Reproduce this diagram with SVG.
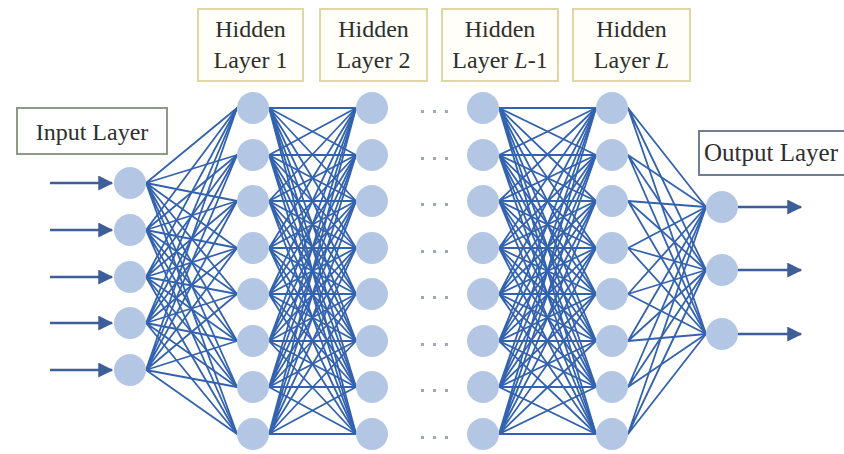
<svg xmlns="http://www.w3.org/2000/svg" width="844" height="454" viewBox="0 0 844 454">
<defs>
<style>
.c{fill:none;stroke:#3362ae;stroke-width:1.8;stroke-linejoin:round}
.n{fill:#b3c7e5}
.t{font-family:"Liberation Serif","Times New Roman",serif;font-size:24px;fill:#2e2e2e;text-anchor:middle}
.hb{fill:#fffef8;stroke:#e2d5a6;stroke-width:2}
.ar{stroke:#3d5e98;stroke-width:2.5;fill:none}
.d{fill:#a0a8b4}
</style>
<marker id="ah" markerWidth="6" markerHeight="6" refX="5.5" refY="3" orient="auto" markerUnits="strokeWidth">
<path d="M0 0L6 3L0 6Z" fill="#3d5e98"/>
</marker>
</defs>
<rect width="844" height="454" fill="#fff"/>

<g id="labels">
<g id="lbl-input"><rect x="17" y="108" width="150" height="46" fill="#fff" stroke="#8d9a86" stroke-width="2"/><text class="t" x="92" y="140">Input Layer</text></g>
<g id="lbl-h1"><rect class="hb" x="198" y="9" width="105" height="72"/><text class="t" x="250.5" y="37">Hidden</text><text class="t" x="250.5" y="68">Layer 1</text></g>
<g id="lbl-h2"><rect class="hb" x="320" y="9" width="107" height="72"/><text class="t" x="373.5" y="37">Hidden</text><text class="t" x="373.5" y="68">Layer 2</text></g>
<g id="lbl-hl1"><rect class="hb" x="442" y="9" width="116" height="72"/><text class="t" x="500" y="37">Hidden</text><text class="t" x="500" y="68">Layer <tspan font-style="italic">L</tspan>-1</text></g>
<g id="lbl-hl"><rect class="hb" x="573" y="9" width="117" height="72"/><text class="t" x="631.5" y="37">Hidden</text><text class="t" x="631.5" y="68">Layer <tspan font-style="italic">L</tspan></text></g>
<g id="lbl-output"><rect x="699" y="131" width="146" height="44" fill="#fff" stroke="#6f7d99" stroke-width="2"/><text class="t" x="771" y="161" style="font-size:25px">Output Layer</text></g>
</g>

<g id="connectors">
<g id="in-h1">
<path class="c" d="M146 183L237 108L146 183L237 155L146 183L237 201L146 183L237 248L146 183L237 294L146 183L237 341L146 183L237 387L146 183L237 434"/>
<path class="c" d="M146 230L237 108L146 230L237 155L146 230L237 201L146 230L237 248L146 230L237 294L146 230L237 341L146 230L237 387L146 230L237 434"/>
<path class="c" d="M146 277L237 108L146 277L237 155L146 277L237 201L146 277L237 248L146 277L237 294L146 277L237 341L146 277L237 387L146 277L237 434"/>
<path class="c" d="M146 323L237 108L146 323L237 155L146 323L237 201L146 323L237 248L146 323L237 294L146 323L237 341L146 323L237 387L146 323L237 434"/>
<path class="c" d="M146 370L237 108L146 370L237 155L146 370L237 201L146 370L237 248L146 370L237 294L146 370L237 341L146 370L237 387L146 370L237 434"/>
</g>
<g id="h1-h2">
<path class="c" d="M269 108L356 108L269 108L356 155L269 108L356 201L269 108L356 248L269 108L356 294L269 108L356 341L269 108L356 387L269 108L356 434"/>
<path class="c" d="M269 155L356 108L269 155L356 155L269 155L356 201L269 155L356 248L269 155L356 294L269 155L356 341L269 155L356 387L269 155L356 434"/>
<path class="c" d="M269 201L356 108L269 201L356 155L269 201L356 201L269 201L356 248L269 201L356 294L269 201L356 341L269 201L356 387L269 201L356 434"/>
<path class="c" d="M269 248L356 108L269 248L356 155L269 248L356 201L269 248L356 248L269 248L356 294L269 248L356 341L269 248L356 387L269 248L356 434"/>
<path class="c" d="M269 294L356 108L269 294L356 155L269 294L356 201L269 294L356 248L269 294L356 294L269 294L356 341L269 294L356 387L269 294L356 434"/>
<path class="c" d="M269 341L356 108L269 341L356 155L269 341L356 201L269 341L356 248L269 341L356 294L269 341L356 341L269 341L356 387L269 341L356 434"/>
<path class="c" d="M269 387L356 108L269 387L356 155L269 387L356 201L269 387L356 248L269 387L356 294L269 387L356 341L269 387L356 387L269 387L356 434"/>
<path class="c" d="M269 434L356 108L269 434L356 155L269 434L356 201L269 434L356 248L269 434L356 294L269 434L356 341L269 434L356 387L269 434L356 434"/>
</g>
<g id="hl1-hl">
<path class="c" d="M499 108L596 108L499 108L596 155L499 108L596 201L499 108L596 248L499 108L596 294L499 108L596 341L499 108L596 387L499 108L596 434"/>
<path class="c" d="M499 155L596 108L499 155L596 155L499 155L596 201L499 155L596 248L499 155L596 294L499 155L596 341L499 155L596 387L499 155L596 434"/>
<path class="c" d="M499 201L596 108L499 201L596 155L499 201L596 201L499 201L596 248L499 201L596 294L499 201L596 341L499 201L596 387L499 201L596 434"/>
<path class="c" d="M499 248L596 108L499 248L596 155L499 248L596 201L499 248L596 248L499 248L596 294L499 248L596 341L499 248L596 387L499 248L596 434"/>
<path class="c" d="M499 294L596 108L499 294L596 155L499 294L596 201L499 294L596 248L499 294L596 294L499 294L596 341L499 294L596 387L499 294L596 434"/>
<path class="c" d="M499 341L596 108L499 341L596 155L499 341L596 201L499 341L596 248L499 341L596 294L499 341L596 341L499 341L596 387L499 341L596 434"/>
<path class="c" d="M499 387L596 108L499 387L596 155L499 387L596 201L499 387L596 248L499 387L596 294L499 387L596 341L499 387L596 387L499 387L596 434"/>
<path class="c" d="M499 434L596 108L499 434L596 155L499 434L596 201L499 434L596 248L499 434L596 294L499 434L596 341L499 434L596 387L499 434L596 434"/>
</g>
<g id="hl-out">
<path class="c" d="M628 108L706 207L628 108L706 270L628 108L706 334"/>
<path class="c" d="M628 155L706 207L628 155L706 270L628 155L706 334"/>
<path class="c" d="M628 201L706 207L628 201L706 270L628 201L706 334"/>
<path class="c" d="M628 248L706 207L628 248L706 270L628 248L706 334"/>
<path class="c" d="M628 294L706 207L628 294L706 270L628 294L706 334"/>
<path class="c" d="M628 341L706 207L628 341L706 270L628 341L706 334"/>
<path class="c" d="M628 387L706 207L628 387L706 270L628 387L706 334"/>
<path class="c" d="M628 434L706 207L628 434L706 270L628 434L706 334"/>
</g>
<g id="inputs">
<path class="ar" d="M50 183H112" marker-end="url(#ah)"/>
<path class="ar" d="M50 230H112" marker-end="url(#ah)"/>
<path class="ar" d="M50 277H112" marker-end="url(#ah)"/>
<path class="ar" d="M50 323H112" marker-end="url(#ah)"/>
<path class="ar" d="M50 370H112" marker-end="url(#ah)"/>
</g>
<g id="outputs">
<path class="ar" d="M738 207H801" marker-end="url(#ah)"/>
<path class="ar" d="M738 270H801" marker-end="url(#ah)"/>
<path class="ar" d="M738 334H801" marker-end="url(#ah)"/>
</g>
</g>

<g id="dots">
<path class="d" d="M421 110h3v3h-3zM433 110h3v3h-3zM445 110h3v3h-3zM421 157h3v3h-3zM433 157h3v3h-3zM445 157h3v3h-3zM421 203h3v3h-3zM433 203h3v3h-3zM445 203h3v3h-3zM421 250h3v3h-3zM433 250h3v3h-3zM445 250h3v3h-3zM421 296h3v3h-3zM433 296h3v3h-3zM445 296h3v3h-3zM421 343h3v3h-3zM433 343h3v3h-3zM445 343h3v3h-3zM421 389h3v3h-3zM433 389h3v3h-3zM445 389h3v3h-3zM421 436h3v3h-3zM433 436h3v3h-3zM445 436h3v3h-3z"/>
</g>

<g id="nodes">
<g id="in1"><circle class="n" cx="130" cy="183" r="16"/></g>
<g id="in2"><circle class="n" cx="130" cy="230" r="16"/></g>
<g id="in3"><circle class="n" cx="130" cy="277" r="16"/></g>
<g id="in4"><circle class="n" cx="130" cy="323" r="16"/></g>
<g id="in5"><circle class="n" cx="130" cy="370" r="16"/></g>
<g id="h1-1"><circle class="n" cx="253" cy="108" r="16"/></g>
<g id="h1-2"><circle class="n" cx="253" cy="155" r="16"/></g>
<g id="h1-3"><circle class="n" cx="253" cy="201" r="16"/></g>
<g id="h1-4"><circle class="n" cx="253" cy="248" r="16"/></g>
<g id="h1-5"><circle class="n" cx="253" cy="294" r="16"/></g>
<g id="h1-6"><circle class="n" cx="253" cy="341" r="16"/></g>
<g id="h1-7"><circle class="n" cx="253" cy="387" r="16"/></g>
<g id="h1-8"><circle class="n" cx="253" cy="434" r="16"/></g>
<g id="h2-1"><circle class="n" cx="372" cy="108" r="16"/></g>
<g id="h2-2"><circle class="n" cx="372" cy="155" r="16"/></g>
<g id="h2-3"><circle class="n" cx="372" cy="201" r="16"/></g>
<g id="h2-4"><circle class="n" cx="372" cy="248" r="16"/></g>
<g id="h2-5"><circle class="n" cx="372" cy="294" r="16"/></g>
<g id="h2-6"><circle class="n" cx="372" cy="341" r="16"/></g>
<g id="h2-7"><circle class="n" cx="372" cy="387" r="16"/></g>
<g id="h2-8"><circle class="n" cx="372" cy="434" r="16"/></g>
<g id="hl1-1"><circle class="n" cx="483" cy="108" r="16"/></g>
<g id="hl1-2"><circle class="n" cx="483" cy="155" r="16"/></g>
<g id="hl1-3"><circle class="n" cx="483" cy="201" r="16"/></g>
<g id="hl1-4"><circle class="n" cx="483" cy="248" r="16"/></g>
<g id="hl1-5"><circle class="n" cx="483" cy="294" r="16"/></g>
<g id="hl1-6"><circle class="n" cx="483" cy="341" r="16"/></g>
<g id="hl1-7"><circle class="n" cx="483" cy="387" r="16"/></g>
<g id="hl1-8"><circle class="n" cx="483" cy="434" r="16"/></g>
<g id="hl-1"><circle class="n" cx="612" cy="108" r="16"/></g>
<g id="hl-2"><circle class="n" cx="612" cy="155" r="16"/></g>
<g id="hl-3"><circle class="n" cx="612" cy="201" r="16"/></g>
<g id="hl-4"><circle class="n" cx="612" cy="248" r="16"/></g>
<g id="hl-5"><circle class="n" cx="612" cy="294" r="16"/></g>
<g id="hl-6"><circle class="n" cx="612" cy="341" r="16"/></g>
<g id="hl-7"><circle class="n" cx="612" cy="387" r="16"/></g>
<g id="hl-8"><circle class="n" cx="612" cy="434" r="16"/></g>
<g id="out1"><circle class="n" cx="722" cy="207" r="16"/></g>
<g id="out2"><circle class="n" cx="722" cy="270" r="16"/></g>
<g id="out3"><circle class="n" cx="722" cy="334" r="16"/></g>
</g>
</svg>
